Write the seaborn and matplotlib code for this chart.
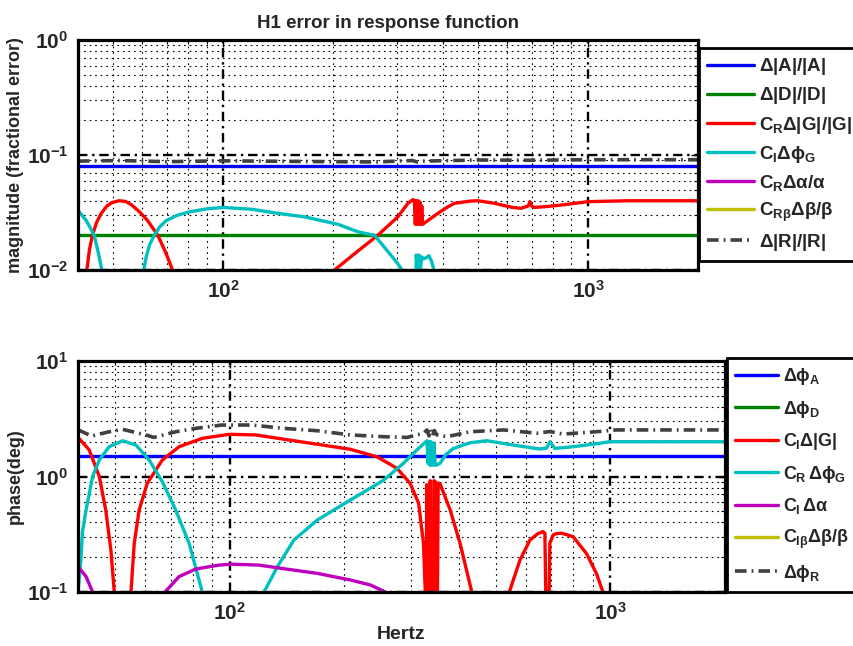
import matplotlib
matplotlib.use('Agg')
import matplotlib.pyplot as plt
import seaborn as sns
from matplotlib.ticker import LogLocator, NullFormatter

# ---------------- data: top panel (magnitude, fractional error) ----------------
f_flat = [40, 2000]
mag_A = [0.08, 0.08]
mag_D = [0.02, 0.02]

f_magG = [41.8, 42.3, 43.0, 43.8, 45.0, 46.3, 48.0, 49.5, 51.8, 54.0, 56.0, 59.0, 62.0,
          66.2, 69.7, 72.6, 73.5, 200, 201.8, 230, 265, 301, 320.6, 328, 331, 334, 336,
          338, 340, 342, 344, 346, 348, 350, 352, 356, 370, 387, 410, 430, 478, 499, 554,
          620, 655, 685, 693, 700, 710, 760, 844, 1000, 1284, 2000]
mag_G = [0.002, 0.010, 0.015, 0.020, 0.026, 0.031, 0.036, 0.0385, 0.040, 0.0395, 0.037,
         0.032, 0.027, 0.020, 0.014, 0.010, 0.002, 0.002, 0.010, 0.014, 0.020, 0.029, 0.038,
         0.040, 0.041, 0.040, 0.025, 0.040, 0.025, 0.040, 0.025, 0.039, 0.025, 0.036, 0.025,
         0.0256, 0.028, 0.031, 0.035, 0.038, 0.0398, 0.040, 0.038, 0.035, 0.0344, 0.036,
         0.0393, 0.036, 0.035, 0.0355, 0.0367, 0.0393, 0.040, 0.040]

f_magPhiG = [40.0, 42.1, 43.3, 44.3, 45.5, 46.5, 47.0, 60.0, 60.6, 61.5, 62.8, 64.7, 66.8,
             69.7, 75.0, 80.7, 90.0, 100, 120, 142, 167, 206, 234, 260, 283, 300, 309, 312,
             336, 338, 341, 344, 347, 350, 354, 360, 366, 372, 378, 380]
mag_PhiG = [0.033, 0.027, 0.023, 0.020, 0.014, 0.010, 0.002, 0.002, 0.010, 0.013, 0.0165,
            0.020, 0.0235, 0.0268, 0.030, 0.032, 0.034, 0.035, 0.0337, 0.031, 0.029, 0.025,
            0.0215, 0.020, 0.0144, 0.0115, 0.010, 0.002, 0.002, 0.0135, 0.010, 0.0135, 0.010,
            0.013, 0.0125, 0.0128, 0.0133, 0.012, 0.010, 0.002]

f_magAlpha = []   # below the visible range
mag_Alpha = []
f_magBeta = []    # below the visible range
mag_Beta = []

f_magR = [40, 52, 70, 100, 200, 260, 330, 340, 356, 500, 690, 1000, 2000]
mag_R = [0.0885, 0.0895, 0.0875, 0.089, 0.0875, 0.087, 0.0895, 0.087, 0.0885, 0.0905,
         0.090, 0.091, 0.091]

# ---------------- data: bottom panel (phase, deg) ----------------
ph_A = [1.5, 1.5]
f_phD = []        # below the visible range
ph_D = []

f_phG = [40.0, 42.8, 45.5, 47.3, 48.8, 49.8, 50.5, 54.5, 55.1, 56.2, 57.9, 60.8, 66.6,
         73.7, 84.8, 100, 117, 153.7, 207.7, 244, 275, 298, 313.7, 323, 326.6, 328, 329.5,
         331, 334.5, 336.5, 338.5, 341.5, 344, 347, 350, 353, 357.4, 379.6, 403, 432.6,
         435, 540, 543, 556, 579, 615, 645, 666, 673, 684, 693.6, 707.7, 720, 745, 798.5,
         865, 919, 956, 960]
ph_G = [2.18, 1.70, 1.0, 0.513, 0.231, 0.10, 0.01, 0.01, 0.10, 0.264, 0.513, 0.873, 1.39,
        1.81, 2.14, 2.32, 2.29, 2.0, 1.72, 1.48, 1.18, 0.873, 0.586, 0.264, 0.10, 0.01, 0.85,
        0.01, 0.01, 0.92, 0.01, 0.01, 0.92, 0.90, 0.01, 0.88, 0.86, 0.513, 0.264,
        0.10, 0.01, 0.01, 0.10, 0.127, 0.189, 0.282, 0.32, 0.333, 0.322, 0.01, 0.264, 0.312,
        0.32, 0.323, 0.301, 0.216, 0.145, 0.10, 0.01]

f_phPhiG = [40.0, 40.7, 41.1, 42.0, 43.7, 45.5, 48.3, 52.4, 56.8, 61.5, 66.6, 72.2, 78.3,
            84.8, 86, 122, 123.2, 133.6, 147.6, 170, 207.7, 254, 286, 310.5, 330, 332, 334,
            336, 338, 341, 344, 347, 350, 357, 370, 387, 428, 474, 556, 653, 680, 694, 715,
            798, 938, 995, 2000]
ph_PhiG = [0.10, 0.189, 0.332, 0.513, 1.0, 1.39, 1.81, 2.04, 1.87, 1.39, 0.90, 0.513, 0.264,
           0.10, 0.01, 0.01, 0.10, 0.166, 0.282, 0.42, 0.626, 0.93, 1.30, 1.70, 2.04, 1.3,
           2.0, 1.25, 2.0, 1.25, 1.95, 1.25, 1.26, 1.30, 1.55, 1.75, 1.96, 2.04, 1.87, 1.73,
           1.76, 2.0, 1.75, 1.81, 1.94, 2.0, 2.0]

f_phAlpha = [40.0, 42.0, 43.7, 44.5, 67, 67.7, 73.7, 81.5, 93.8, 101.5, 119.3, 139, 170,
             207.7, 234.4, 256.5, 260]
ph_Alpha = [0.166, 0.136, 0.10, 0.01, 0.01, 0.10, 0.136, 0.158, 0.171, 0.174, 0.171, 0.159,
            0.145, 0.127, 0.115, 0.10, 0.01]

f_phBeta = []     # below the visible range
ph_Beta = []

f_phR = [40.0, 41.1, 43.4, 48.3, 52.4, 60.3, 63.3, 72.2, 81.5, 95.5, 114.6, 139, 170, 207.7,
         254, 292.4, 323, 330, 334, 337, 341, 345, 350, 372, 428, 524, 640, 694, 751, 919,
         1037, 2000]
ph_R = [2.53, 2.44, 2.24, 2.44, 2.56, 2.29, 2.18, 2.44, 2.61, 2.79, 2.79, 2.61, 2.49, 2.29,
        2.21, 2.18, 2.37, 2.53, 2.25, 2.55, 2.25, 2.5, 2.3, 2.21, 2.44, 2.53, 2.37, 2.45, 2.33,
        2.44, 2.53, 2.53]

top_labels = [r'$\Delta|A|/|A|$', r'$\Delta|D|/|D|$', r'$C_R\Delta|G|/|G|$',
              r'$C_I\Delta\phi_G$', r'$C_R\Delta\alpha/\alpha$', r'$C_{R\beta}\Delta\beta/\beta$',
              r'$\Delta|R|/|R|$']
bot_labels = [r'$\Delta\phi_A$', r'$\Delta\phi_D$', r'$C_I\Delta|G|$', r'$C_R\,\Delta\phi_G$',
              r'$C_I\,\Delta\alpha$', r'$C_{I\beta}\Delta\beta/\beta$', r'$\Delta\phi_R$']

# ---------------- style ----------------
sns.set_style('white')
plt.rcParams['font.family'] = ['Liberation Sans', 'DejaVu Sans']
plt.rcParams['font.weight'] = 'bold'
plt.rcParams['mathtext.fontset'] = 'custom'
plt.rcParams['mathtext.rm'] = 'Liberation Sans:bold'
plt.rcParams['mathtext.it'] = 'Liberation Sans:bold'
plt.rcParams['mathtext.bf'] = 'Liberation Sans:bold'
plt.rcParams['mathtext.sf'] = 'Liberation Sans:bold'

C_BLUE = (0, 0, 1)
C_GREEN = (0, 0.5, 0)
C_RED = (1, 0, 0)
C_CYAN = (0, 0.75, 0.75)
C_MAG = (0.75, 0, 0.75)
C_YEL = (0.75, 0.75, 0)
C_GRAY = (0.25, 0.25, 0.25)
LW = 2.4
DASHDOT = (0, (3.2, 1.4, 0.5, 1.4))

fig = plt.figure(figsize=(8.54, 6.46), dpi=100)
ax1 = fig.add_axes([78 / 854, 1 - 270 / 646, 620 / 854, 230 / 646])
ax2 = fig.add_axes([78 / 854, 1 - 592 / 646, 647 / 854, 231 / 646])


def draw(ax, series, labels):
    cols = [C_BLUE, C_GREEN, C_RED, C_CYAN, C_MAG, C_YEL, C_GRAY]
    for (fx, vy), lab, col in zip(series, labels, cols):
        ls = DASHDOT if col == C_GRAY else '-'
        lw = 2.6 if col == C_GRAY else LW
        if len(fx) == 0:
            ax.plot([], [], color=col, lw=lw, ls=ls, label=lab)
        else:
            sns.lineplot(x=fx, y=vy, ax=ax, color=col, lw=lw, linestyle=ls, label=lab,
                         sort=False, estimator=None)


draw(ax1, [(f_flat, mag_A), (f_flat, mag_D), (f_magG, mag_G), (f_magPhiG, mag_PhiG),
           (f_magAlpha, mag_Alpha), (f_magBeta, mag_Beta), (f_magR, mag_R)], top_labels)
draw(ax2, [(f_flat, ph_A), (f_phD, ph_D), (f_phG, ph_G), (f_phPhiG, ph_PhiG),
           (f_phAlpha, ph_Alpha), (f_phBeta, ph_Beta), (f_phR, ph_R)], bot_labels)

for ax, ylim in [(ax1, (1e-2, 1e0)), (ax2, (1e-1, 1e1))]:
    ax.set_xscale('log')
    ax.set_yscale('log')
    ax.set_xlim(40, 2000)
    ax.set_ylim(*ylim)
    ax.xaxis.set_major_locator(LogLocator(base=10))
    ax.xaxis.set_minor_locator(LogLocator(base=10, subs=range(2, 10)))
    ax.yaxis.set_major_locator(LogLocator(base=10))
    ax.yaxis.set_minor_locator(LogLocator(base=10, subs=range(2, 10)))
    ax.xaxis.set_minor_formatter(NullFormatter())
    ax.yaxis.set_minor_formatter(NullFormatter())
    ax.set_axisbelow(True)
    ax.grid(True, which='minor', color='k', linestyle=(0, (1.5, 3.5)), linewidth=0.8)
    ax.grid(True, which='major', color='k', linestyle=(0, (4, 2, 1, 2)), linewidth=1.7)
    for sp in ax.spines.values():
        sp.set_color('k')
        sp.set_linewidth(2.3)
        sp.set_visible(True)
    ax.tick_params(which='both', direction='in', top=True, right=True, color='k')
    ax.tick_params(which='major', length=5, width=1, labelsize=15, pad=7)
    ax.tick_params(which='minor', length=3, width=0.8)
    for t in ax.get_xticklabels() + ax.get_yticklabels():
        t.set_fontweight('bold')

ax1.set_title('H1 error in response function', fontsize=13.5, fontweight='bold', pad=9)
ax1.set_ylabel('magnitude (fractional error)', fontsize=13, fontweight='bold', labelpad=2)
ax2.set_ylabel('phase(deg)', fontsize=13, fontweight='bold', labelpad=2)
ax2.set_xlabel('Hertz', fontsize=14, fontweight='bold', labelpad=2)
ax1.set_xlabel('')

for ax, anchor, sp, fs, hl in [(ax1, (699 / 854, 1 - 48 / 646), 0.43, 13.5, 2.5),
                               (ax2, (727 / 854, 1 - 358 / 646), 0.64, 13, 2.4)]:
    leg = ax.legend(loc='upper left', bbox_to_anchor=anchor, bbox_transform=fig.transFigure,
                    borderaxespad=0, fontsize=fs, handlelength=hl, handletextpad=0.25,
                    labelspacing=sp, fancybox=False, framealpha=1, edgecolor='k',
                    borderpad=0.45)
    leg.get_frame().set_linewidth(2.0)

fig.savefig('out.png', dpi=100)
